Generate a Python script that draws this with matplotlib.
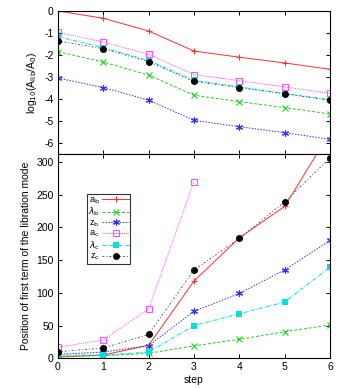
import matplotlib
matplotlib.use("Agg")
import matplotlib.pyplot as plt

plt.rcParams['font.family'] = ['Liberation Sans', 'DejaVu Sans']
plt.rcParams['font.size'] = 7.5

steps = [0, 1, 2, 3, 4, 5, 6]

# top panel: log10(A_lib/A_0)
top_ab = [0.0, -0.33, -0.91, -1.82, -2.1, -2.36, -2.65]
top_lb = [-1.85, -2.32, -2.91, -3.83, -4.12, -4.39, -4.68]
top_zb = [-3.05, -3.48, -4.05, -4.97, -5.26, -5.53, -5.83]
top_ac = [-0.97, -1.41, -1.97, -2.89, -3.17, -3.45, -3.74]
top_lc = [-1.17, -1.66, -2.25, -3.15, -3.45, -3.75, -4.03]
top_zc = [-1.36, -1.71, -2.3, -3.2, -3.48, -3.77, -4.06]

# bottom panel: position of first term
bot_ab = [2, 5, 20, 118, 184, 232, 345]
bot_lb = [3, 4, 7.6, 19, 29, 40.6, 51]
bot_zb = [6, 9.6, 19.3, 72, 99, 135, 180]
bot_ac_steps = [0, 1, 2, 3]
bot_ac = [17, 28, 75.6, 270]
bot_lc = [5, 5, 9.6, 50, 68, 86, 139]
bot_zc = [10, 15.7, 36.5, 135, 183, 239, 306]

labels = [r'a$_\mathrm{b}$', r'$\lambda_\mathrm{b}$', r'z$_\mathrm{b}$',
          r'a$_\mathrm{c}$', r'$\lambda_\mathrm{c}$', r'z$_\mathrm{c}$']

styles = [
    dict(color='#ff3030', ls='-', marker='+', ms=5, mew=0.8, lw=0.7),
    dict(color='#20d020', ls=(0, (3, 2)), marker='x', ms=4, mew=0.8, lw=0.7),
    dict(color='#3030ff', ls=(0, (1.5, 1.5)), marker=(6, 2, 0), ms=5, mew=0.8, lw=0.7),
    dict(color='#ff50ff', ls=(0, (1, 1)), marker='s', ms=5, mfc='none', mew=0.8, lw=0.7),
    dict(color='#00e0e0', ls=(0, (4, 1.5, 1, 1.5)), marker='s', ms=4.5, mew=0, lw=0.7),
    dict(color='#000000', ls=(0, (2, 2, 1, 2)), marker='o', ms=4, mew=0, lw=0.7),
]

fig = plt.figure(figsize=(3.46, 3.88), dpi=100)
ax1 = fig.add_axes([0.1676, 0.6031, 0.7862, 0.3685])
ax2 = fig.add_axes([0.1676, 0.0765, 0.7862, 0.5266])

tops = [top_ab, top_lb, top_zb, top_ac, top_lc, top_zc]
for data, st in zip(tops, styles):
    s = dict(st)
    if s['color'] == '#000000':
        s_line = dict(s); s_line['color'] = '#606060'; s_line['marker'] = 'None'
        ax1.plot(steps, data, **s_line)
        ax1.plot(steps, data, ls='None', marker='o', ms=4, color='black')
    else:
        ax1.plot(steps, data, **s)

bots = [(steps, bot_ab), (steps, bot_lb), (steps, bot_zb),
        (bot_ac_steps, bot_ac), (steps, bot_lc), (steps, bot_zc)]
handles = []
for (xs, data), st, lab in zip(bots, styles, labels):
    s = dict(st)
    if s['color'] == '#000000':
        s_line = dict(s); s_line['color'] = '#606060'; s_line['marker'] = 'None'
        ax2.plot(xs, data, **s_line)
        ax2.plot(xs, data, ls='None', marker='o', ms=4, color='black')
        h, = ax2.plot([], [], ls=s['ls'], color='#606060', lw=0.7, marker='o',
                      ms=4, mfc='black', mec='black')
    else:
        h, = ax2.plot(xs, data, **s)
    handles.append(h)

ax1.set_xlim(0, 6)
ax1.set_ylim(-6.5, 0)
ax1.set_yticks([0, -1, -2, -3, -4, -5, -6])
ax1.set_yticklabels(['0', '-1', '-2', '-3', '-4', '-5', '-6'])
ax1.set_xticks(steps)
ax1.set_xticklabels([])
ax1.set_ylabel(r'log$_{10}$(A$_\mathrm{lib}$/A$_0$)', labelpad=4)

ax2.set_xlim(0, 6)
ax2.set_ylim(0, 312)
ax2.set_yticks([0, 50, 100, 150, 200, 250, 300])
ax2.set_xticks(steps)
ax2.set_xlabel('step', labelpad=2)
ax2.set_ylabel('Position of first term of the libration mode', labelpad=4)

for ax in (ax1, ax2):
    ax.tick_params(direction='in', top=True, right=True, length=3, width=0.7, pad=3)
    for sp in ax.spines.values():
        sp.set_linewidth(0.8)

leg = ax2.legend(handles, labels, loc='upper left', bbox_to_anchor=(0.105, 0.805),
                 frameon=True, fancybox=False, edgecolor='black', fontsize=6.6,
                 handlelength=2.9, handletextpad=0.3, borderpad=0.15,
                 labelspacing=0.0, markerfirst=False, borderaxespad=0)
leg.get_frame().set_linewidth(0.8)

fig.savefig('out.png', dpi=100)
